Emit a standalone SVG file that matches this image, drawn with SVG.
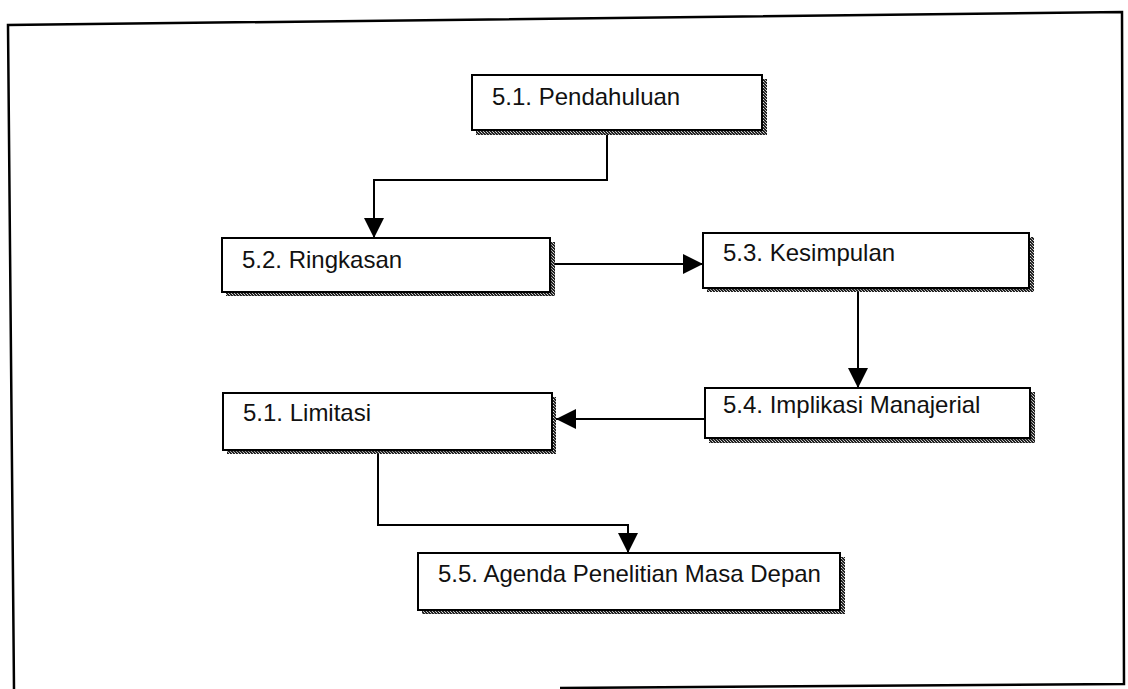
<svg xmlns="http://www.w3.org/2000/svg" width="1128" height="689" viewBox="0 0 1128 689">
  <defs>
    <!-- grainy shadow texture used on box edges -->
    <pattern id="grain" width="3" height="3" patternUnits="userSpaceOnUse">
      <rect width="3" height="3" fill="#222"/>
      <rect x="1" y="0" width="1" height="1" fill="#ddd"/>
      <rect x="0" y="2" width="1" height="1" fill="#bbb"/>
      <rect x="2" y="1" width="1" height="1" fill="#999"/>
    </pattern>
    <marker id="arrow" viewBox="0 0 20 20" refX="20" refY="10" markerWidth="20" markerHeight="20" markerUnits="userSpaceOnUse" orient="auto">
      <path d="M0,0 L20,10 L0,20 Z" fill="#000"/>
    </marker>
  </defs>
  <style>
    .box { fill: #fff; stroke: #000; stroke-width: 2; }
    .shadow { fill: url(#grain); }
    .label { font-family: "Liberation Sans", Arial, sans-serif; font-size: 24px; fill: #111; }
    .wire { fill: none; stroke: #000; stroke-width: 2; }
    .frame { fill: none; stroke: #000; stroke-width: 2.5; }
  </style>

  <rect width="1128" height="689" fill="#fff"/>

  <!-- outer frame -->
  <path class="frame" d="M14,689 L8,25 L1122,12 L1124,684 L560,688"/>

  <g id="n51">
    <rect class="shadow" x="476" y="79" width="291" height="56"/>
    <rect class="box" x="472" y="75" width="290" height="55"/>
    <text class="label" x="492" y="105">5.1. Pendahuluan</text>
  </g>

  <g id="n52">
    <rect class="shadow" x="226" y="242" width="329" height="54"/>
    <rect class="box" x="222" y="238" width="328" height="54"/>
    <text class="label" x="242" y="268">5.2. Ringkasan</text>
  </g>

  <g id="n53">
    <rect class="shadow" x="707" y="237" width="327" height="55"/>
    <rect class="box" x="703" y="233" width="326" height="55"/>
    <text class="label" x="723" y="261">5.3. Kesimpulan</text>
  </g>

  <g id="n54">
    <rect class="shadow" x="709" y="392" width="326" height="51"/>
    <rect class="box" x="705" y="388" width="325" height="50"/>
    <text class="label" x="723" y="413">5.4. Implikasi Manajerial</text>
  </g>

  <g id="n51b">
    <rect class="shadow" x="227" y="397" width="329" height="57"/>
    <rect class="box" x="223" y="393" width="329" height="57"/>
    <text class="label" x="243" y="421">5.1. Limitasi</text>
  </g>

  <g id="n55">
    <rect class="shadow" x="422" y="557" width="423" height="57"/>
    <rect class="box" x="418" y="553" width="422" height="57"/>
    <text class="label" x="438" y="582">5.5. Agenda Penelitian Masa Depan</text>
  </g>

  <g id="connectors">
    <path class="wire" d="M607,135 L607,180 L374,180 L374,238" marker-end="url(#arrow)"/>
    <path class="wire" d="M555,264 L703,264" marker-end="url(#arrow)"/>
    <path class="wire" d="M858,292 L858,388" marker-end="url(#arrow)"/>
    <path class="wire" d="M705,419 L556,419" marker-end="url(#arrow)"/>
    <path class="wire" d="M378,454 L378,525 L628,525 L628,553" marker-end="url(#arrow)"/>
  </g>
</svg>
